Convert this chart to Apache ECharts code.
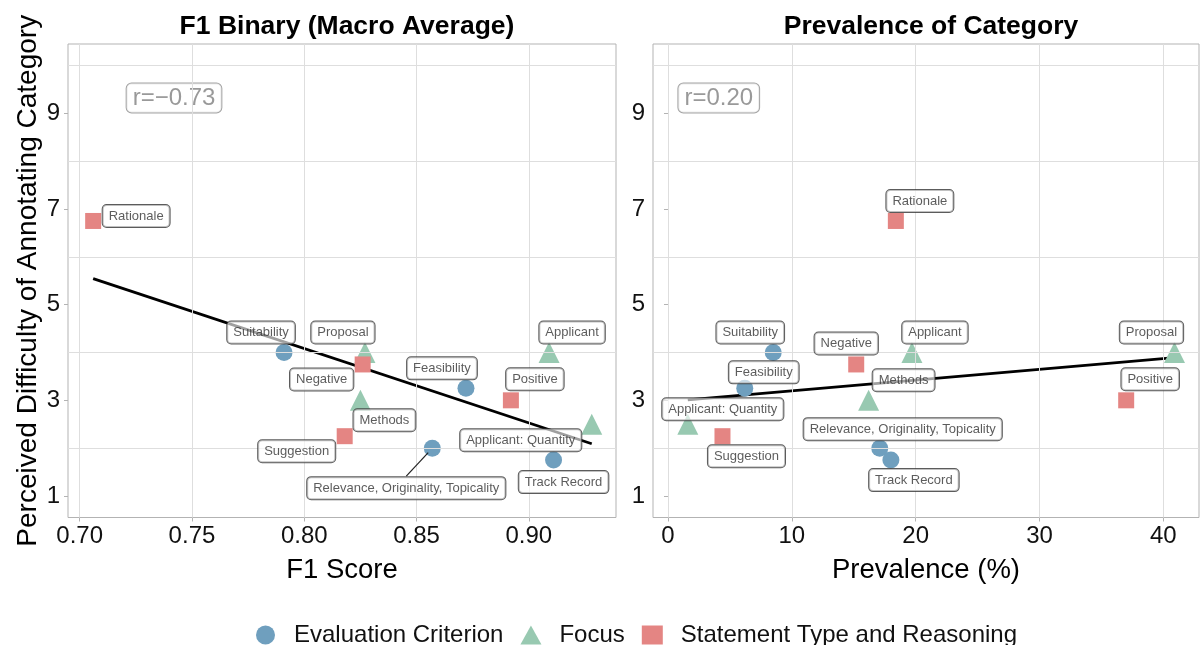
<!DOCTYPE html>
<html>
<head>
<meta charset="utf-8">
<script src="https://cdn.jsdelivr.net/npm/echarts@6/dist/echarts.min.js"></script>
<style>
  html, body { margin: 0; padding: 0; background: #ffffff; }
  #chart { width: 1200px; height: 645px; }
</style>
</head>
<body>
<div id="chart"></div>
<script>
// ---------------- DATA ----------------
const categories = ['Evaluation Criterion', 'Focus', 'Statement Type and Reasoning'];
const itemNames = ['Suitability', 'Feasibility', 'Relevance, Originality, Topicality', 'Track Record',
                   'Proposal', 'Methods', 'Applicant', 'Applicant: Quantity',
                   'Rationale', 'Negative', 'Suggestion', 'Positive'];
const itemGroup = [0, 0, 0, 0, 1, 1, 1, 1, 2, 2, 2, 2];
const f1Score = [0.791, 0.872, 0.857, 0.911, 0.827, 0.825, 0.909, 0.928, 0.706, 0.826, 0.818, 0.892];
const prevalencePct = [8.5, 6.2, 17.1, 18.0, 40.9, 16.2, 19.7, 1.6, 18.4, 15.2, 4.4, 37.0];
const difficulty = [4.0, 3.25, 2.0, 1.75, 4.0, 3.0, 4.0, 2.5, 6.75, 3.75, 2.25, 3.0];
const xTicksF1 = [0.70, 0.75, 0.80, 0.85, 0.90];
const xTicksPrev = [0, 10, 20, 30, 40];
const yTicks = [1, 3, 5, 7, 9];
const yMinorGrid = [2, 4, 6, 8, 10];
const panelTitles = ['F1 Binary (Macro Average)', 'Prevalence of Category'];
const axisTitlesX = ['F1 Score', 'Prevalence (%)'];
const axisTitleY = 'Perceived Difficulty of Annotating Category';
const corrLabels = ['r=\u22120.73', 'r=0.20'];
const corrLabelPos = [[0.742, 9.32], [4.1, 9.32]];

// ---------------- STYLE ----------------
const FONT = 'Liberation Sans, Arial, Helvetica, sans-serif';
const colors = ['#6f9fbe', '#98c9b1', '#e48583'];
const symbols = ['circle', 'triangle', 'rect'];
const symbolSizes = [17, 21, 16];
// label offsets (pixels, from point centre to label centre) per panel
const labelOffsets = [
  {
    'Suitability': [-23, -20], 'Proposal': [-22, -20], 'Negative': [-41, 15], 'Feasibility': [-24, -20],
    'Positive': [24, -21], 'Applicant': [23, -20], 'Methods': [24, 20], 'Suggestion': [-48, 15],
    'Applicant: Quantity': [-71, 16], 'Relevance, Originality, Topicality': [-26, 40],
    'Track Record': [10, 22], 'Rationale': [43, -5]
  },
  {
    'Suitability': [-23, -20], 'Feasibility': [19, -16], 'Applicant: Quantity': [35, -15],
    'Suggestion': [24, 20], 'Negative': [-10, -21], 'Methods': [35, -20], 'Applicant': [23, -20],
    'Relevance, Originality, Topicality': [23, -19], 'Track Record': [23, 20], 'Proposal': [-23, -20],
    'Positive': [24, -21], 'Rationale': [24, -20]
  }
];
const leaderLines = [['Relevance, Originality, Topicality'], []];

function linFit(xs, ys) {
  const n = xs.length;
  const mx = xs.reduce((a, b) => a + b, 0) / n;
  const my = ys.reduce((a, b) => a + b, 0) / n;
  let sxy = 0, sxx = 0;
  for (let i = 0; i < n; i++) { sxy += (xs[i] - mx) * (ys[i] - my); sxx += (xs[i] - mx) ** 2; }
  const b = sxy / sxx, a = my - b * mx;
  const x0 = Math.min(...xs), x1 = Math.max(...xs);
  return [[x0, a + b * x0], [x1, a + b * x1]];
}

const xValues = [f1Score, prevalencePct];
const xTicks = [xTicksF1, xTicksPrev];
const xRanges = [[0.6948, 0.9388], [-1.21, 42.88]];
const gridRects = [{ left: 68, width: 548 }, { left: 653, width: 546 }];

const grids = gridRects.map(r => ({
  left: r.left, width: r.width, top: 44, height: 473.5,
  show: true, borderColor: '#b3b3b3', borderWidth: 1, backgroundColor: '#fff', containLabel: false
}));

const xAxes = [0, 1].map(p => ({
  type: 'value', gridIndex: p, min: xRanges[p][0], max: xRanges[p][1],
  axisLine: { show: false },
  splitLine: { show: false },
  axisTick: { show: true, customValues: xTicks[p], length: 4, lineStyle: { color: '#b3b3b3', width: 1 } },
  axisLabel: {
    customValues: xTicks[p], fontSize: 24, color: '#111', fontFamily: FONT, margin: 7,
    formatter: v => p === 0 ? Number(v).toFixed(2) : String(Math.round(v))
  },
  name: axisTitlesX[p], nameLocation: 'middle', nameGap: 39,
  nameTextStyle: { fontSize: 27.5, color: '#000', fontFamily: FONT }
}));

const yAxes = [0, 1].map(p => ({
  type: 'value', gridIndex: p, min: 0.55, max: 10.45,
  axisLine: { show: false },
  splitLine: { show: false },
  axisTick: { show: true, customValues: yTicks, length: 4, lineStyle: { color: '#b3b3b3', width: 1 } },
  axisLabel: { customValues: yTicks, fontSize: 24, color: '#111', fontFamily: FONT, margin: 8,
               formatter: v => String(Math.round(v)) },
  name: p === 0 ? axisTitleY : '', nameLocation: 'middle', nameGap: 25,
  nameTextStyle: { fontSize: 28, color: '#000', fontFamily: FONT }
}));

const series = [];

for (let p = 0; p < 2; p++) {
  // grid lines
  series.push({
    type: 'scatter', name: 'grid' + p, xAxisIndex: p, yAxisIndex: p, data: [], z: 0, silent: true,
    markLine: {
      silent: true, symbol: ['none', 'none'], animation: false,
      label: { show: false },
      lineStyle: { color: '#dedede', width: 1, type: 'solid' },
      data: xTicks[p].map(v => ({ xAxis: v })).concat(yMinorGrid.map(v => ({ yAxis: v })))
    }
  });
  // regression line
  series.push({
    type: 'line', name: 'fit' + p, xAxisIndex: p, yAxisIndex: p, z: 2, silent: true,
    data: linFit(xValues[p], difficulty), showSymbol: false, symbol: 'none',
    lineStyle: { color: '#000', width: 2.8 }
  });
  // scatter series per category (points)
  for (let g = 0; g < categories.length; g++) {
    const data = [];
    for (let i = 0; i < itemNames.length; i++) {
      if (itemGroup[i] !== g) continue;
      data.push({ name: itemNames[i], value: [xValues[p][i], difficulty[i]] });
    }
    series.push({
      type: 'scatter', name: categories[g], xAxisIndex: p, yAxisIndex: p, z: 3,
      symbol: symbols[g], symbolSize: symbolSizes[g],
      itemStyle: { color: colors[g], opacity: 1 },
      data: data,
      emphasis: { disabled: true }
    });
  }
  // labels (drawn above all points)
  const labelData = itemNames.map((nm, i) => {
    const item = { name: nm, value: [xValues[p][i], difficulty[i]] };
    if (leaderLines[p].includes(nm)) {
      item.labelLine = { show: true, lineStyle: { color: '#222', width: 1.2 } };
    }
    return item;
  });
  series.push({
    type: 'scatter', name: 'labels' + p, xAxisIndex: p, yAxisIndex: p, z: 5, silent: true,
    symbol: 'circle', symbolSize: 12, itemStyle: { color: 'rgba(0,0,0,0)' },
    data: labelData,
    label: {
      show: true, position: 'inside', formatter: '{b}',
      fontSize: 13, color: '#333', fontFamily: FONT,
      backgroundColor: 'rgba(255,255,255,0.78)', borderColor: '#333', borderWidth: 1,
      borderRadius: 4, padding: [5, 6, 4, 6]
    },
    labelLine: { show: false, lineStyle: { color: '#222', width: 1.2 } },
    labelLayout: function (params) {
      const off = labelOffsets[p][params.text] || [0, 0];
      return { dx: off[0], dy: off[1] };
    },
    emphasis: { disabled: true }
  });
  // correlation label
  series.push({
    type: 'scatter', name: 'corr' + p, xAxisIndex: p, yAxisIndex: p, z: 4, silent: true,
    symbolSize: 0, data: [corrLabelPos[p]],
    label: {
      show: true, position: 'inside', formatter: corrLabels[p],
      fontSize: 24, color: '#7f7f7f', fontFamily: FONT,
      backgroundColor: '#fff', borderColor: '#8c8c8c', borderWidth: 1, borderRadius: 5,
      padding: [3, 6, 2, 6]
    }
  });
}

const chart = echarts.init(document.getElementById('chart'), null, { renderer: 'canvas' });
chart.setOption({
  animation: false,
  backgroundColor: '#ffffff',
  title: panelTitles.map((t, p) => ({
    text: t, left: gridRects[p].left + gridRects[p].width / 2, top: 8, textAlign: 'center',
    textStyle: { fontSize: 26.5, fontWeight: 'bold', color: '#000', fontFamily: FONT }
  })),
  legend: {
    data: categories, left: 251, top: 618, itemWidth: 21, itemHeight: 19, itemGap: 17,
    textStyle: { fontSize: 24, color: '#111', fontFamily: FONT, padding: [0, 0, 0, 13] }
  },
  grid: grids,
  xAxis: xAxes,
  yAxis: yAxes,
  series: series
});
</script>
</body>
</html>
